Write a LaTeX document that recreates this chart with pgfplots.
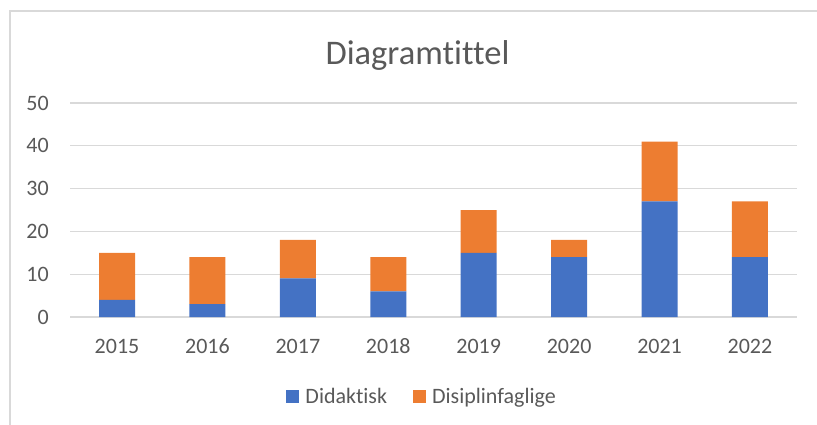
\documentclass[border=0pt]{standalone}
\usepackage{fontspec}
\setmainfont{Carlito}[Ligatures=NoCommon]
\usepackage{pgfplots}
\pgfplotsset{compat=1.18}
\definecolor{bblue}{HTML}{4472C4}
\definecolor{borange}{HTML}{ED7D31}
\definecolor{txtgray}{HTML}{595959}
\definecolor{gridgray}{HTML}{D9D9D9}
\begin{document}
\begin{tikzpicture}
\useasboundingbox (0pt,0pt) rectangle (817pt,424pt);
\clip (0pt,0pt) rectangle (817pt,424pt);
\draw[gridgray, line width=1.3pt] (10pt,-20pt) -- (10pt,413pt) -- (840pt,413pt);
\node[anchor=base, text=txtgray, font=\fontsize{34.5}{40}\selectfont, inner sep=0pt] at (417.5pt,359pt) {Diagramtittel};
\begin{axis}[
  at={(70pt,107pt)}, anchor=south west,
  scale only axis, width=727pt, height=214pt,
  ybar stacked, bar width=36pt,
  xmin=-0.52, xmax=7.52, ymin=0, ymax=50,
  xtick={0,...,7},
  xticklabels={2015,2016,2017,2018,2019,2020,2021,2022},
  ytick={0,10,...,50},
  ymajorgrids, major grid style={draw=gridgray, line width=1.3pt},
  axis line style={draw=none},
  major tick length=0pt,
  /pgf/number format/assume math mode=true,
  tick label style={text=txtgray, font=\fontsize{22}{26}\selectfont, inner sep=0pt},
  yticklabel style={anchor=east, xshift=-21pt},
  xticklabel style={anchor=base, yshift=-36pt},
  legend columns=2,
  legend style={at={(0.483,-0.37)}, anchor=center, draw=none, fill=none,
    font=\fontsize{22}{26}\selectfont, text=txtgray,
    nodes={inner sep=0pt},
    /tikz/every odd column/.append style={column sep=6pt},
    /tikz/every even column/.append style={column sep=26pt}},
  legend image code/.code={\fill[#1] (0pt,-6.5pt) rectangle (13pt,6.5pt);},
]
\addplot[fill=bblue, draw=none] coordinates {(0,4) (1,3) (2,9) (3,6) (4,15) (5,14) (6,27) (7,14)};
\addplot[fill=borange, draw=none] coordinates {(0,11) (1,11) (2,9) (3,8) (4,10) (5,4) (6,14) (7,13)};
\legend{Didaktisk, Disiplinfaglige}
\end{axis}
\end{tikzpicture}
\end{document}
